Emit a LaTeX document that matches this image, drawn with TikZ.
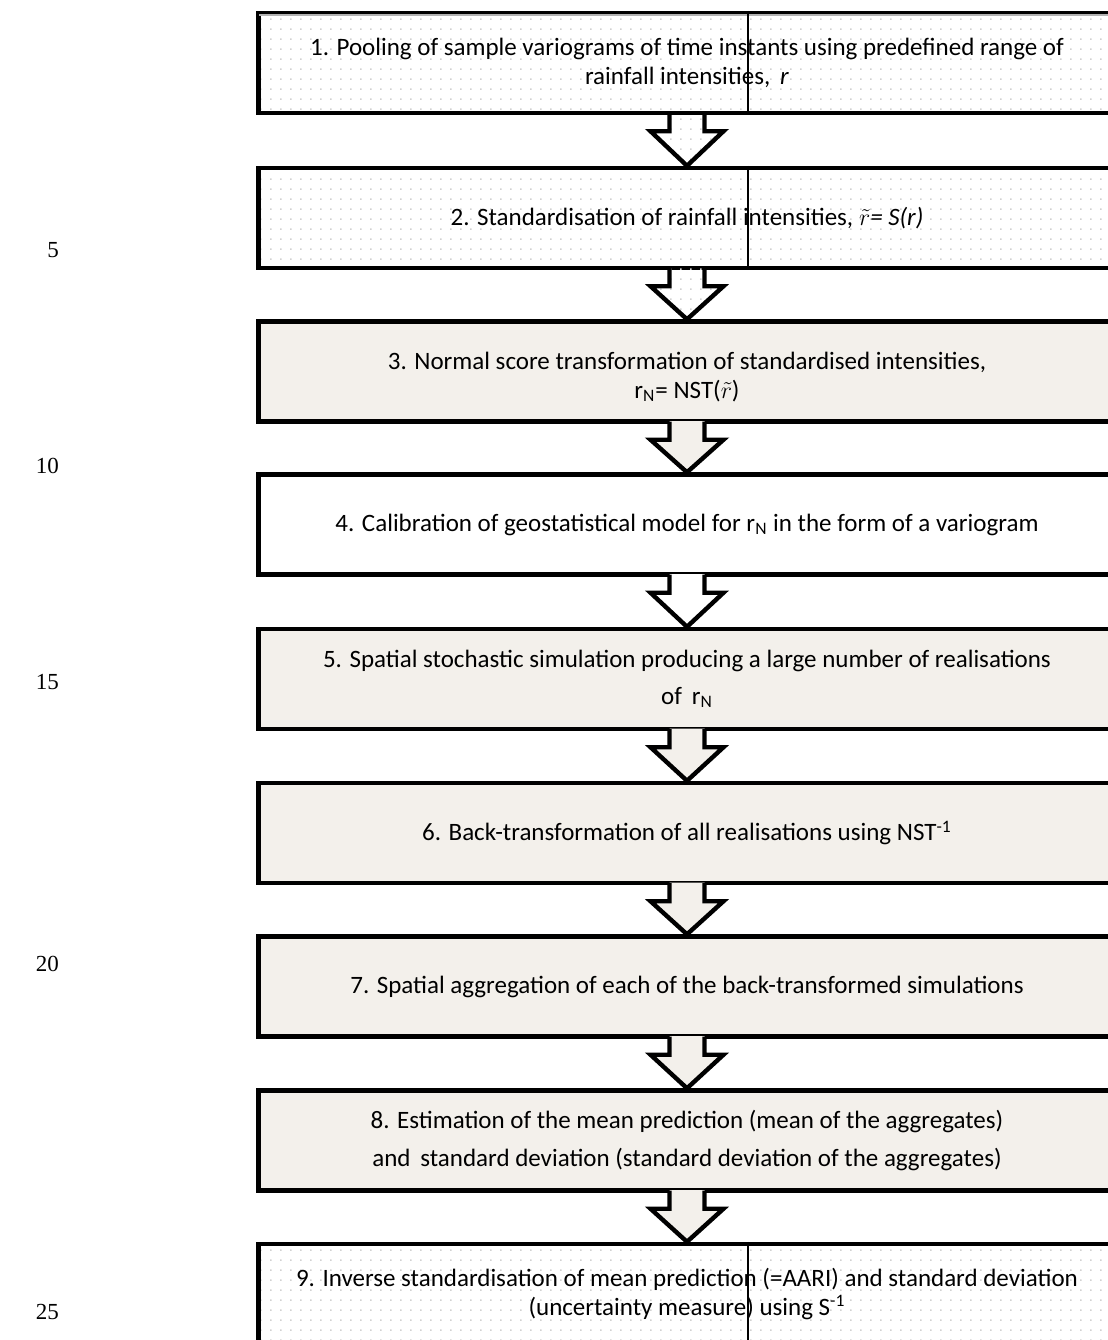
\documentclass[tikz,border=0pt]{standalone}
\usepackage{fontspec}
\setmainfont{Carlito}
\newfontfamily\linenofont{Liberation Serif}
\usetikzlibrary{calc, patterns}

\definecolor{stepbeige}{RGB}{243,240,235}

% light dotted grid used in the first, second and last box
\pgfdeclarepatternformonly{dotgrid}{\pgfpointorigin}{\pgfpoint{5pt}{5pt}}{\pgfpoint{5pt}{5pt}}{%
  \pgfpathrectangle{\pgfpointorigin}{\pgfpoint{0.9pt}{0.9pt}}%
  \pgfusepath{fill}%
}

\tikzset{
  stepbox/.style={draw, line width=2.2pt, minimum width=428.5pt, minimum height=50pt,
    inner sep=0pt, align=center, font=\fontsize{12.5}{14.5}\selectfont},
  dotted fill/.style={pattern=dotgrid, pattern color=black!18},
  beige fill/.style={fill=stepbeige},
  white fill/.style={fill=white},
  arrowline/.style={line width=2.2pt, line join=miter},
  lineno/.style={anchor=east, font=\linenofont\fontsize{11.5}{13}\selectfont},
  gridline/.style={line width=0.6pt}
}

% block arrow between two steps: #1 upper node, #2 lower node, #3 fill style
\newcommand{\steparrow}[3]{%
  \path[#3] ($(#1.south)+(-17.5,-2.5)$) -- ($(#1.south)+(-17.5,16)$) -- ($(#1.south)+(-36.5,16)$)
    -- (#2.north) -- ($(#1.south)+(36.5,16)$) -- ($(#1.south)+(17.5,16)$)
    -- ($(#1.south)+(17.5,-2.5)$) -- cycle;
  \draw[arrowline] ($(#1.south)+(-17.5,-2.2)$) -- ($(#1.south)+(-17.5,16)$) -- ($(#1.south)+(-36.5,16)$)
    -- (#2.north) -- ($(#1.south)+(36.5,16)$) -- ($(#1.south)+(17.5,16)$)
    -- ($(#1.south)+(17.5,-2.2)$);
}

\begin{document}
\begin{tikzpicture}[x=0.5pt, y=-0.5pt]

    \useasboundingbox (0,0) rectangle (1108,1340);
    \clip (0,0) rectangle (1108,1340);

    % Line numbers of the manuscript
    \node[lineno] (n5) at (66, 250) {5};
    \node[lineno] (n10) at (66, 466) {10};
    \node[lineno] (n15) at (66, 682) {15};
    \node[lineno] (n20) at (66, 964) {20};
    \node[lineno] (n25) at (66, 1312) {25};

    % Step 1
    \node[stepbox, dotted fill] (b1) at (687, 63) {1. Pooling of sample variograms of time instants using predefined range of\\ rainfall intensities,\, \textit{r}};
    \draw[gray!60, line width=0.8pt] ($(b1.north west)+(3,4)$) -- ($(b1.north east)+(-3,4)$);
    \draw[gridline] ($(b1.north)+(61,0)$) -- ($(b1.south)+(61,0)$);

    % Step 2
    \node[stepbox, dotted fill] (b2) at (687, 218) {2. Standardisation of rainfall intensities, \textit{$\tilde{r}$= S(r)}};
    \draw[gridline] ($(b2.north)+(61,0)$) -- ($(b2.south)+(61,0)$);

    % Step 3
    \node[stepbox, beige fill] (b3) at (687, 371.5) {\rule{0pt}{14pt}3. Normal score transformation of standardised intensities,\\ r\textsubscript{N}= NST($\tilde{r}$)};

    % Step 4
    \node[stepbox, white fill] (b4) at (687, 524.5) {4. Calibration of geostatistical model for r\textsubscript{N} in the form of a variogram};

    % Step 5
    \node[stepbox, beige fill] (b5) at (687, 679) {5. Spatial stochastic simulation producing a large number of realisations\\[4pt] of\, r\textsubscript{N}};

    % Step 6
    \node[stepbox, beige fill] (b6) at (687, 833) {6. Back-transformation of all realisations using NST\textsuperscript{-1}};

    % Step 7
    \node[stepbox, beige fill] (b7) at (687, 986.5) {7. Spatial aggregation of each of the back-transformed simulations};

    % Step 8
    \node[stepbox, beige fill] (b8) at (687, 1140.5) {8. Estimation of the mean prediction (mean of the aggregates)\\[4.5pt] and\, standard deviation (standard deviation of the aggregates)};

    % Step 9
    \node[stepbox, dotted fill] (b9) at (687, 1294) {9. Inverse standardisation of mean prediction (=AARI) and standard deviation\\ (uncertainty measure) using S\textsuperscript{-1}};
    \draw[gridline] ($(b9.north)+(61,0)$) -- ($(b9.south)+(61,0)$);

    % Arrows from step to step
    \steparrow{b1}{b2}{dotted fill}
    \steparrow{b2}{b3}{dotted fill}
    \steparrow{b3}{b4}{beige fill}
    \steparrow{b4}{b5}{white fill}
    \steparrow{b5}{b6}{beige fill}
    \steparrow{b6}{b7}{beige fill}
    \steparrow{b7}{b8}{beige fill}
    \steparrow{b8}{b9}{beige fill}

\end{tikzpicture}
\end{document}
